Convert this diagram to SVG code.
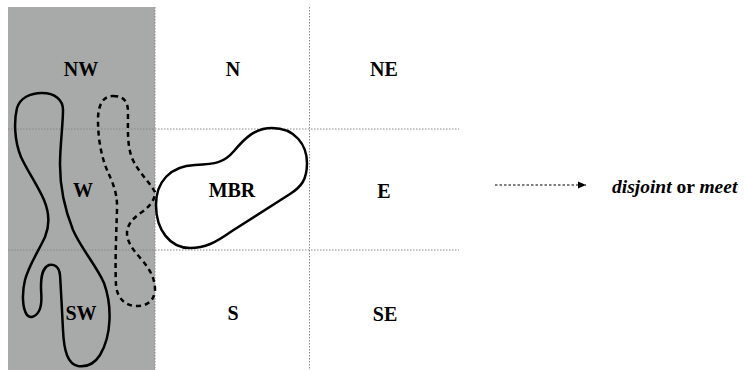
<svg xmlns="http://www.w3.org/2000/svg" width="746" height="370" viewBox="0 0 746 370">
<style>
.grid{stroke:#888;stroke-width:1;stroke-dasharray:1.5 1.5;fill:none}
.lbl{font-family:"Liberation Serif","Times New Roman",serif;font-weight:bold;font-size:20px;fill:#000;text-anchor:middle}
.shape{fill:none;stroke:#000;stroke-width:2.5;stroke-linejoin:round}
.dash{fill:none;stroke:#000;stroke-width:2.5;stroke-dasharray:5 4}
.note{font-family:"Liberation Serif","Times New Roman",serif;font-weight:bold;font-size:19.5px;fill:#000}
</style>
<defs>
<marker id="ah" markerWidth="10" markerHeight="10" refX="8" refY="4.5" orient="auto" markerUnits="userSpaceOnUse">
<path d="M0,1 L8,4.5 L0,8 Z" fill="#000"/>
</marker>
</defs>
<rect width="746" height="370" fill="#fff"/>
<rect id="shade" x="8" y="7" width="147" height="363" fill="#a7aaa8"/>
<g id="grid">
<line class="grid" x1="155" y1="7" x2="155" y2="370"/>
<line class="grid" x1="309.5" y1="7" x2="309.5" y2="370"/>
<line class="grid" x1="8" y1="129" x2="459" y2="129"/>
<line class="grid" x1="8" y1="250" x2="459" y2="250"/>
</g>
<g id="labels">
<text class="lbl" x="81" y="76">NW</text>
<text class="lbl" x="233" y="76">N</text>
<text class="lbl" x="384" y="76">NE</text>
<text class="lbl" x="83" y="197">W</text>
<text class="lbl" x="384" y="198">E</text>
<text class="lbl" x="81" y="320">SW</text>
<text class="lbl" x="233" y="320">S</text>
<text class="lbl" x="385" y="321">SE</text>
</g>
<g id="region-solid">
<path class="shape" d="M42,93 C55,93 63,100 63,110 C63,125 60,145 60,165 C60,185 63,205 73,230 C82,250 96,265 104,283 C112,305 112,335 100,355 C93,366 85,367 78,366 C68,364 64,352 63,330 C62,310 61,290 60,275 C59,266 54,264 49,265 C42,268 41,277 41,287 C41,296 43,304 39,311 C35,318 30,318 27,315 C22,308 22,292 25,280 C29,265 38,252 45,237 C50,225 49,212 44,200 C38,186 28,172 21,157 C14,140 14,120 17,108 C20,98 30,93 42,93 Z"/>
</g>
<g id="region-dashed">
<path class="dash" d="M113,96 C124,96 128,102 128,112 C128,130 127,145 132,158 C138,172 148,180 155,192 C155,200 150,206 142,212 C133,218 127,225 127,233 C127,242 133,250 142,260 C150,270 155,278 155,290 C154,302 146,306 137,306 C125,306 117,298 116,285 C115,265 116,240 117,210 C118,190 110,178 105,165 C100,150 98,135 98,120 C98,105 103,96 113,96 Z"/>
</g>
<g id="mbr">
<path class="shape" d="M272,128 C295,128 307,145 307,163 C307,180 301,187 290,194 L232,231 C215,243 205,248 190,248 C170,248 156,230 156,205 C156,182 170,166 195,165 C215,164 224,163 234,151 C245,138 255,128 272,128 Z"/>
<text class="lbl" x="232" y="197">MBR</text>
</g>
<g id="connectors">
<line x1="495" y1="185" x2="586" y2="185" stroke="#000" stroke-width="1.2" stroke-dasharray="2.5 2" marker-end="url(#ah)"/>
</g>
<g id="result">
<text class="note" x="612" y="193"><tspan font-style="italic">disjoint</tspan> or <tspan font-style="italic">meet</tspan></text>
</g>
</svg>
